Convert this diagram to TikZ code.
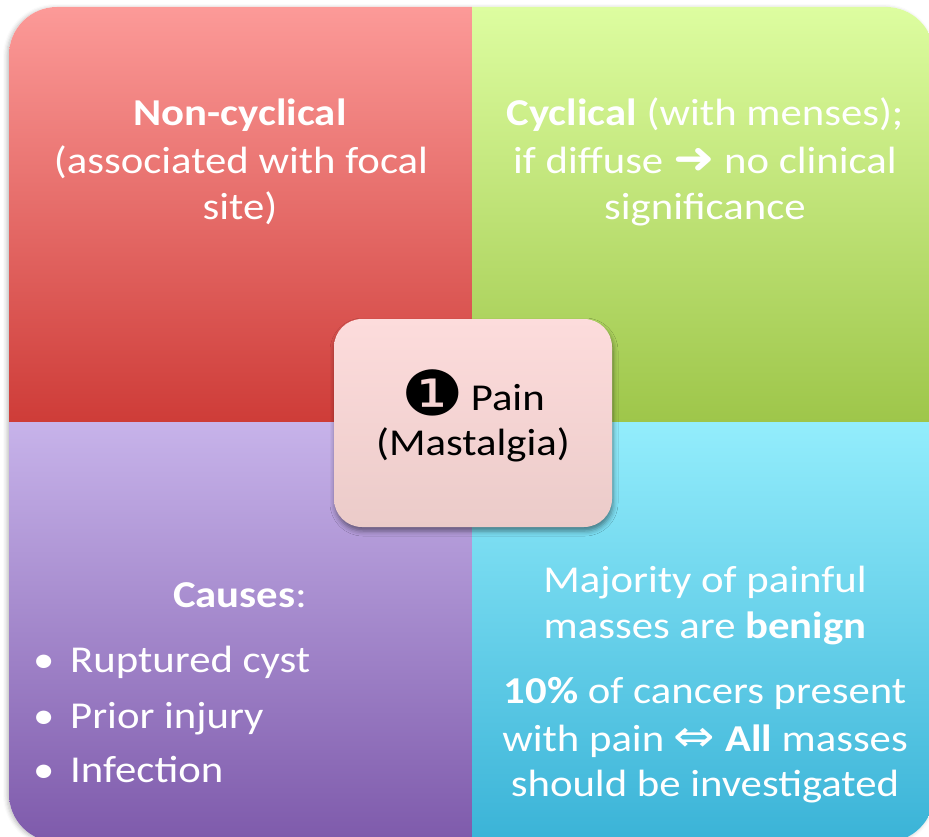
\documentclass[tikz,border=0pt]{standalone}
\usepackage{fontspec}
\usepackage{graphicx}
\setmainfont{Carlito}[FakeStretch=1.125]
\newfontfamily\dejavu{DejaVu Sans}[FakeStretch=1.125]
\usetikzlibrary{shadows.blur}
\definecolor{tlT}{HTML}{FC9A98}
\definecolor{tlB}{HTML}{CE3C38}
\definecolor{trT}{HTML}{DDFDA0}
\definecolor{trB}{HTML}{9EC64A}
\definecolor{blT}{HTML}{C7B3EA}
\definecolor{blB}{HTML}{7E5AAB}
\definecolor{brT}{HTML}{93EDFC}
\definecolor{brB}{HTML}{3AB3D7}
\definecolor{cT}{HTML}{FDDCDC}
\definecolor{cB}{HTML}{EBCBC9}
\begin{document}
\begin{tikzpicture}[x=1pt,y=-1pt,
  txt/.style={text=white, inner sep=0pt, anchor=base, font=\fontsize{38}{46}\selectfont},
  txtw/.style={txt, anchor=base west},
  centerbox/.style={rounded corners=28pt, minimum width=278pt, minimum height=208pt,
    top color=cT, bottom color=cB, inner sep=0pt, align=center,
    font=\fontsize{38}{45}\selectfont, text=black,
    blur shadow={shadow xshift=1pt, shadow yshift=-4pt, shadow blur radius=5pt, shadow opacity=45}}]
\useasboundingbox (0,0) rectangle (929,837);
% outer shape with faint shadow
\path[fill=white, rounded corners=48pt,
  blur shadow={shadow xshift=-2pt, shadow yshift=-1pt, shadow blur radius=4pt, shadow opacity=25}]
  (9,7) rectangle (934,842);
\begin{scope}
  \clip[rounded corners=48pt] (9,7) rectangle (934,842);
  \shade[top color=tlT, bottom color=tlB] (9,7) rectangle (472,422);
  \shade[top color=trT, bottom color=trB] (472,7) rectangle (934,422);
  \shade[top color=blT, bottom color=blB] (9,422) rectangle (472,842);
  \shade[top color=brT, bottom color=brB] (472,422) rectangle (934,842);
\end{scope}
% top-left
\node[txt] (tl1) at (240,126) {\textbf{Non-cyclical}};
\node[txt] (tl2) at (241,174) {(associated with focal};
\node[txt] (tl3) at (240,220) {site)};
% top-right
\node[txt] (tr1) at (705,126) {\textbf{Cyclical} (with menses);};
\node[txt] (tr2) at (705,174) {if diffuse {\dejavu\bfseries\fontsize{44}{44}\selectfont ➜} no clinical};
\node[txt] (tr3) at (705,220) {significance};
% bottom-left
\node[txt] (bl0) at (240,607) {\textbf{Causes}:};
\node[txtw] (b1) at (33,672) {•};
\node[txtw] (b2) at (33,728) {•};
\node[txtw] (b3) at (33,782) {•};
\node[txtw] (bl1) at (70,672) {Ruptured cyst};
\node[txtw] (bl2) at (70,728) {Prior injury};
\node[txtw] (bl3) at (70,782) {Infection};
% bottom-right
\node[txt] (br1) at (705,592) {Majority of painful};
\node[txt] (br2) at (705,638) {masses are \textbf{benign}};
\node[txt] (br3) at (705,703) {\textbf{10\%} of cancers present};
\node[txt] (br4) at (705,751) {with pain {\dejavu\fontsize{44}{44}\selectfont ⇔} \textbf{All} masses};
\node[txt] (br5) at (705,796) {should be investigated};
% center
\node[centerbox] (pain) at (473,423)
  {\smash{\raisebox{-5pt}{\dejavu\fontsize{62}{62}\selectfont ❶}}\hspace{7pt}Pain\\(Mastalgia)};
\end{tikzpicture}
\end{document}
